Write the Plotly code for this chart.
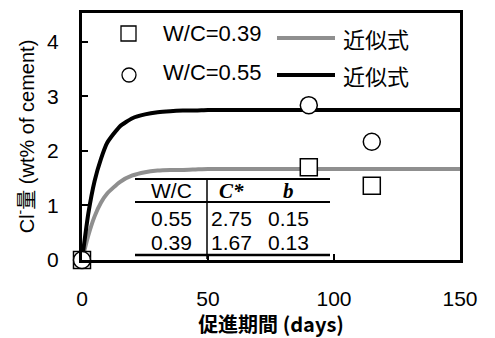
import plotly.graph_objects as go

# ---- data ----
t_fit = [0, 2.5, 5, 7.5, 10, 15, 20, 25, 30, 35, 40, 45, 50, 60, 70, 80, 90, 100, 110, 120, 130, 140, 150]
fit_055 = [0, 0.85, 1.45, 1.85, 2.15, 2.45, 2.60, 2.67, 2.71, 2.73, 2.74, 2.74, 2.75, 2.75, 2.75, 2.75, 2.75, 2.75, 2.75, 2.75, 2.75, 2.75, 2.75]
fit_039 = [0, 0.45, 0.80, 1.05, 1.22, 1.43, 1.55, 1.61, 1.64, 1.65, 1.65, 1.66, 1.67, 1.67, 1.67, 1.67, 1.67, 1.67, 1.67, 1.67, 1.67, 1.67, 1.67]

t_obs = [0, 90, 115]
obs_039 = [0, 1.70, 1.36]
obs_055 = [0, 2.84, 2.17]

legend_labels = ["W/C=0.39", "W/C=0.55"]
fit_label = "近似式"

table_header = ["W/C", "<i><b>C*</b></i>", "<i><b>b</b></i>"]
table_wc = ["0.55", "0.39"]
table_cstar = ["2.75", "1.67"]
table_b = ["0.15", "0.13"]

x_ticks = [0, 50, 100, 150]
y_ticks = [0, 1, 2, 3, 4]

# ---- layout geometry (pixels) ----
W, H = 495, 338
L, R, T, B = 82, 460, 13, 260
def fx(px):
    return (px - L) / (R - L)
def fy(py):
    return (B - py) / (B - T)

GRAY = "#8f8f8f"
SANS = "Liberation Sans, Arial, sans-serif"
SERIF = "Liberation Serif, Times New Roman, serif"

fig = go.Figure()
fig.add_trace(go.Scatter(x=t_fit, y=fit_039, mode="lines", line=dict(color=GRAY, width=4, shape="spline", smoothing=0.5), showlegend=False, cliponaxis=True))
fig.add_trace(go.Scatter(x=t_fit, y=fit_055, mode="lines", line=dict(color="black", width=4, shape="spline", smoothing=0.5), showlegend=False, cliponaxis=True))
fig.add_trace(go.Scatter(x=t_obs, y=obs_039, mode="markers", marker=dict(symbol="square", size=17, color="white", line=dict(color="black", width=1.5)), showlegend=False, cliponaxis=False))
fig.add_trace(go.Scatter(x=t_obs, y=obs_055, mode="markers", marker=dict(symbol="circle", size=17, color="white", line=dict(color="black", width=1.5)), showlegend=False, cliponaxis=False))

shapes = []
annotations = []

# legend keys
shapes.append(dict(type="rect", xref="paper", yref="paper", x0=fx(121), x1=fx(136), y0=fy(41), y1=fy(26), line=dict(color="black", width=1.3), fillcolor="white"))
shapes.append(dict(type="circle", xref="paper", yref="paper", x0=fx(122), x1=fx(136), y0=fy(82), y1=fy(68), line=dict(color="black", width=1.3), fillcolor="white"))
shapes.append(dict(type="line", xref="paper", yref="paper", x0=fx(277), x1=fx(335), y0=fy(38), y1=fy(38), line=dict(color=GRAY, width=4)))
shapes.append(dict(type="line", xref="paper", yref="paper", x0=fx(277), x1=fx(335), y0=fy(75), y1=fy(75), line=dict(color="black", width=4)))
for lab, py in zip(legend_labels, [33, 72]):
    annotations.append(dict(text=lab, xref="paper", yref="paper", x=fx(161), y=fy(py), xanchor="left", yanchor="middle", showarrow=False, font=dict(family=SANS, size=22, color="black")))
for py in [38, 75]:
    annotations.append(dict(text=fit_label, xref="paper", yref="paper", x=fx(341), y=fy(py), xanchor="left", yanchor="middle", showarrow=False, font=dict(family="Noto Sans CJK JP", size=22, color="black")))

# table lines
for py, w in [(179, 2), (202, 2), (255, 2.5)]:
    shapes.append(dict(type="line", xref="paper", yref="paper", x0=fx(135), x1=fx(330), y0=fy(py), y1=fy(py), line=dict(color="black", width=w)))
shapes.append(dict(type="line", xref="paper", yref="paper", x0=fx(207), x1=fx(207), y0=fy(179), y1=fy(259), line=dict(color="black", width=1.5)))

col_x = [171, 231, 288]
for txt, cx in zip(table_header, col_x):
    fam = SANS if txt == "W/C" else SERIF
    annotations.append(dict(text=txt, xref="paper", yref="paper", x=fx(cx), y=fy(191), xanchor="center", yanchor="middle", showarrow=False, font=dict(family=fam, size=21, color="black")))
for i, py in enumerate([218, 242]):
    for txt, cx in zip([table_wc[i], table_cstar[i], table_b[i]], col_x):
        annotations.append(dict(text=txt, xref="paper", yref="paper", x=fx(cx), y=fy(py), xanchor="center", yanchor="middle", showarrow=False, font=dict(family=SANS, size=21, color="black")))

fig.update_layout(
    width=W, height=H,
    margin=dict(l=L, r=W - R, t=T, b=H - B, autoexpand=False),
    paper_bgcolor="white", plot_bgcolor="white",
    shapes=shapes, annotations=annotations,
    font=dict(family=SANS, color="black"),
)
fig.update_xaxes(
    range=[0, 150], tickvals=x_ticks, ticks="inside", ticklen=6, tickwidth=2, tickcolor="black",
    showline=True, linecolor="black", linewidth=3, mirror=True, showgrid=False, zeroline=False,
    tickfont=dict(family=SANS, size=21, color="black"), ticklabelstandoff=18,
    title=dict(text="<b>促進期間 (days)</b>", font=dict(family="Noto Sans CJK JP, Liberation Sans", size=20, color="black"), standoff=2),
)
fig.update_yaxes(
    range=[0, 4.53], tickvals=y_ticks, ticks="inside", ticklen=6, tickwidth=2, tickcolor="black",
    showline=True, linecolor="black", linewidth=3, mirror=True, showgrid=False, zeroline=False,
    tickfont=dict(family=SANS, size=21, color="black"), ticklabelstandoff=16,
    title=dict(text="Cl<sup>-</sup>量 (wt% of cement)", font=dict(family="Liberation Sans, Noto Sans CJK JP", size=20, color="black"), standoff=8),
)

fig.write_html("out.html", config={"displayModeBar": False},
               post_script="document.body.style.margin='0';document.body.style.padding='0';")
